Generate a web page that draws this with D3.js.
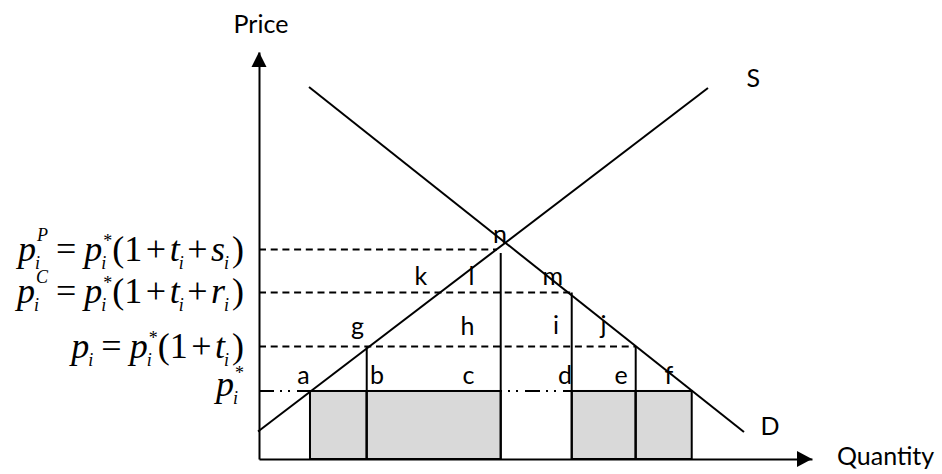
<!DOCTYPE html>
<html>
<head>
<meta charset="utf-8">
<script src="https://cdn.jsdelivr.net/npm/d3@7"></script>
<style>
  body { margin: 0; background: #fff; }
  svg { display: block; }
</style>
</head>
<body>
<svg id="canvas"></svg>
<script>
// Model units: quantity 0..10 along the x axis, price 0..10 up the y axis

// Quantities where the vertical lines stand (a .. f)
const qA = 0.922, qB = 1.948, qC = 4.371, qD = 5.655, qE = 6.812, qF = 7.825;
// Price levels: p*, p_i, p^C, p^P
const pStar = 1.671, pI = 2.764, pC = 4.091, pP = 5.147;
// Top of the vertical line under n
const cTop = 5.061;

// Supply and demand end points [q, p]
const supplyPoints = [[-0.018, 0.676], [8.119, 9.115]];
const demandPoints = [[0.904, 9.140], [8.770, 0.663]];

// Dashed price lines: [price, quantity where the dash stops]
const dashedLevels = [[pI, qE], [pC, qD], [pP, 4.304]];
// Dash-dot line at p*
const starLevel = [pStar, qF];

// Shaded blocks [q0, q1] below p*
const blocks = [[qA, qB], [qB, qC], [qD, qE], [qE, qF]];
// Vertical lines [q, p top]
const verticals = [[qB, pI], [qC, cTop], [qD, pC], [qE, pI]];

// Letter labels and where their baselines sit
const letters   = ["a", "b", "c", "d", "e", "f", "g", "h", "i", "j", "k", "l", "m", "n"];
const letterQ   = [0.805, 2.134, 3.788, 5.533, 6.546, 7.414, 1.781, 3.770, 5.371, 6.230, 2.929, 3.843, 5.311, 4.358];
const letterP   = [1.855, 1.855, 1.855, 1.855, 1.855, 1.855, 3.05, 3.05, 3.08, 3.08, 4.275, 4.275, 4.275, 5.31];

// Curve names
const curveNames = ["S", "D"];
const curveLabelQ = [8.94, 9.24];
const curveLabelP = [9.13, 0.59];

// Axis titles
const axisTitles = ["Price", "Quantity"];

// Equations for the price levels, pieces: v = variable, u = upright, o = operator
const v = (b, sub, sup) => ({ kind: "v", b, sub, sup });
const u = (b) => ({ kind: "u", b });
const o = (b) => ({ kind: "o", b });
const equations = [
  [v("p", "i", "P"), o("="), v("p", "i", "*"), u("(1"), o("+"), v("t", "i"), o("+"), v("s", "i"), u(")")],
  [v("p", "i", "C"), o("="), v("p", "i", "*"), u("(1"), o("+"), v("t", "i"), o("+"), v("r", "i"), u(")")],
  [v("p", "i"), o("="), v("p", "i", "*"), u("(1"), o("+"), v("t", "i"), u(")")],
  [v("p", "i", "*")]
];
const equationPrices = [pP, pC, pI, pStar];

const width = 942, height = 474;
const svg = d3.select("#canvas").attr("width", width).attr("height", height);

const x = d3.scaleLinear().domain([0, 10]).range([259, 812]);
const y = d3.scaleLinear().domain([0, 10]).range([459, 52]);

const labelFont = "Lato, 'Open Sans', sans-serif";
const mathFont = "'Liberation Serif', 'Times New Roman', serif";

// p* dash-dot line (drawn first so the block tops cover it)
svg.append("line")
   .attr("x1", x(0)).attr("x2", x(starLevel[1]))
   .attr("y1", y(starLevel[0])).attr("y2", y(starLevel[0]))
   .attr("stroke", "#000").attr("stroke-width", 2)
   .attr("stroke-dasharray", "15,6,2,6,2,7");

// Shaded blocks
svg.selectAll("rect.block")
   .data(blocks)
   .enter()
   .append("rect")
   .attr("class", "block")
   .attr("x", d => x(d[0]))
   .attr("y", y(pStar))
   .attr("width", d => x(d[1]) - x(d[0]))
   .attr("height", y(0) - y(pStar))
   .attr("fill", "#d9d9d9")
   .attr("stroke", "#000")
   .attr("stroke-width", 2);

// Dashed price levels
svg.selectAll("line.dashed")
   .data(dashedLevels)
   .enter()
   .append("line")
   .attr("class", "dashed")
   .attr("x1", x(0))
   .attr("x2", d => x(d[1]))
   .attr("y1", d => y(d[0]))
   .attr("y2", d => y(d[0]))
   .attr("stroke", "#000")
   .attr("stroke-width", 2)
   .attr("stroke-dasharray", "7,4.7");

// Vertical lines
svg.selectAll("line.vertical")
   .data(verticals)
   .enter()
   .append("line")
   .attr("class", "vertical")
   .attr("x1", d => x(d[0])).attr("x2", d => x(d[0]))
   .attr("y1", y(0)).attr("y2", d => y(d[1]))
   .attr("stroke", "#000")
   .attr("stroke-width", 2);

// Supply and demand
const line = d3.line().x(d => x(d[0])).y(d => y(d[1]));
svg.selectAll("path.curve")
   .data([supplyPoints, demandPoints])
   .enter()
   .append("path")
   .attr("class", "curve")
   .attr("d", line)
   .attr("fill", "none")
   .attr("stroke", "#000")
   .attr("stroke-width", 2);

// Axes without ticks, just the domain lines
svg.append("g")
   .attr("transform", `translate(0,${y(0)})`)
   .call(d3.axisBottom(x).tickValues([]).tickSizeOuter(0));
svg.append("g")
   .attr("transform", `translate(${x(0)},0)`)
   .call(d3.axisLeft(y).tickValues([]).tickSizeOuter(0));
svg.selectAll(".domain").attr("stroke-width", 2).attr("stroke", "#000");

// Arrow heads
const xTip = [x(10), y(0)], yTip = [x(0), y(10)];
svg.append("path")
   .attr("d", `M${xTip[0]},${xTip[1]}L${xTip[0] - 15},${xTip[1] - 8}L${xTip[0] - 15},${xTip[1] + 8}Z`)
   .attr("fill", "#000");
svg.append("path")
   .attr("d", `M${yTip[0]},${yTip[1]}L${yTip[0] - 7.5},${yTip[1] + 15}L${yTip[0] + 7.5},${yTip[1] + 15}Z`)
   .attr("fill", "#000");

// Axis titles
svg.append("text")
   .attr("x", x(0) + 2).attr("y", 33)
   .attr("text-anchor", "middle")
   .style("font-family", labelFont).style("font-size", "25px")
   .text(axisTitles[0]);
svg.append("text")
   .attr("x", 837).attr("y", 465)
   .style("font-family", labelFont).style("font-size", "25px")
   .text(axisTitles[1]);

// Curve labels
svg.selectAll("text.curveLabel")
   .data(curveNames)
   .enter()
   .append("text")
   .attr("class", "curveLabel")
   .attr("x", (d, i) => x(curveLabelQ[i]))
   .attr("y", (d, i) => y(curveLabelP[i]))
   .attr("text-anchor", "middle")
   .style("font-family", labelFont).style("font-size", "25px")
   .text(d => d);

// Letter labels
svg.selectAll("text.letter")
   .data(letters)
   .enter()
   .append("text")
   .attr("class", "letter")
   .attr("x", (d, i) => x(letterQ[i]))
   .attr("y", (d, i) => y(letterP[i]))
   .attr("text-anchor", "middle")
   .style("font-family", labelFont).style("font-size", "25px")
   .text(d => d);

// Equations: one text per line, tspans for scripts, right edge placed next to the axis
const mathSize = 36, scriptSize = 18, supRaise = 20, starRaise = 14, subDrop = 8;
const subWidth = 0.278 * scriptSize;   // width of the italic "i" subscript
const drawEquation = (tokens, baseline, starUp) => {
   const t = svg.append("text")
      .attr("x", 0).attr("y", baseline)
      .style("font-family", mathFont);
   let cur = 0, pending = 0;
   const span = (txt, size, italic, shift, dx) => {
      t.append("tspan")
       .attr("dy", shift - cur)
       .attr("dx", dx + pending)
       .style("font-size", size + "px")
       .style("font-style", italic ? "italic" : "normal")
       .text(txt);
      cur = shift;
      pending = 0;
   };
   tokens.forEach(tk => {
      if (tk.kind === "o") {
         const gap = tk.b === "=" ? 8 : 3.5;
         span(tk.b, mathSize, false, 0, gap);
         pending = gap;
      } else if (tk.kind === "u") {
         span(tk.b, mathSize, false, 0, tk.b === ")" ? 3 : 0);
      } else {
         span(tk.b, mathSize, true, 0, 0);
         if (tk.sub) span(tk.sub, scriptSize, true, subDrop, -1);
         if (tk.sup) {
            const star = tk.sup === "*";
            span(tk.sup, scriptSize, !star, star ? -starUp : -supRaise, tk.sub ? 2 - subWidth : 2);
         }
      }
   });
   // right align the whole line against x = 244
   const bb = t.node().getBBox();
   t.attr("x", 244 - (bb.x + bb.width));
};
const eqBaselineOffset = [11, 11, 11, 5];
const eqStarRaise = [starRaise, starRaise, starRaise, 17];
equations.forEach((eq, i) => drawEquation(eq, y(equationPrices[i]) + eqBaselineOffset[i], eqStarRaise[i]));
</script>
</body>
</html>
